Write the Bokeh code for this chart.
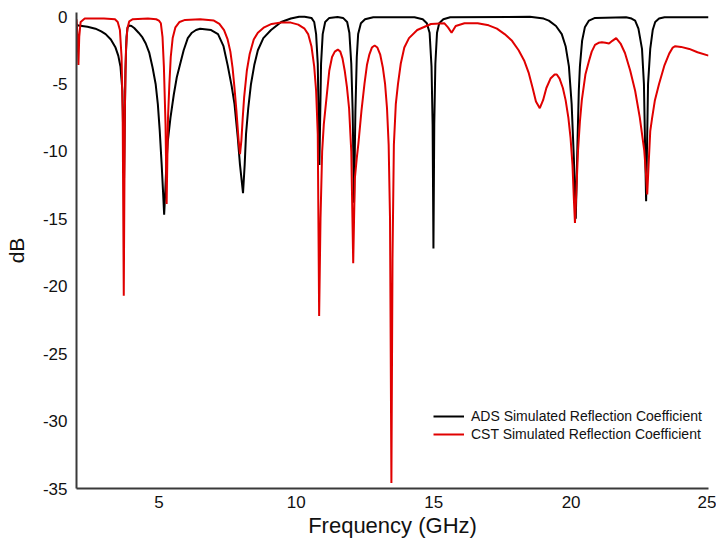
from bokeh.plotting import figure
from bokeh.models import Range1d, Legend, LegendItem, FixedTicker
from bokeh.embed import file_html
from bokeh.resources import INLINE

# ADS simulated reflection coefficient (GHz, dB)
ads_freq = [2.0, 2.07, 2.4, 2.69, 2.9, 3.06, 3.25, 3.42, 3.52, 3.6, 3.67, 3.73, 3.78, 3.82, 3.86, 3.92,
            4.0, 4.1, 4.26, 4.4, 4.52, 4.65, 4.77, 4.88, 4.96, 5.03, 5.1, 5.15, 5.19, 5.23, 5.27,
            5.32, 5.42, 5.54, 5.65, 5.8, 5.9, 6.05, 6.2, 6.35, 6.5, 6.9, 7.15, 7.35, 7.5, 7.65,
            7.75, 7.87, 7.95, 8.06, 8.12, 8.17, 8.25, 8.35, 8.47, 8.6, 8.8, 9.08, 9.45, 9.8,
            10.1, 10.3, 10.55, 10.65, 10.72, 10.78, 10.84, 10.9, 10.96, 11.05, 11.2, 11.5,
            11.7, 11.85, 11.93, 12.0, 12.05, 12.1, 12.15, 12.2, 12.25, 12.35, 12.5, 12.8,
            14.3, 14.6, 14.75, 14.85, 14.92, 14.96, 14.99, 15.02, 15.06, 15.12, 15.2, 15.35, 15.6,
            18.5, 19.0, 19.19, 19.45, 19.66, 19.8, 19.92, 20.02, 20.1, 20.17, 20.23, 20.28,
            20.32, 20.4, 20.5, 20.65, 20.87, 22.0, 22.2, 22.33, 22.45, 22.58, 22.65, 22.73,
            22.8, 22.88, 22.97, 23.06, 23.2, 23.4, 25.0]
ads_db = [-0.6, -0.67, -0.75, -0.9, -1.1, -1.3, -1.7, -2.3, -2.9, -3.7, -5.5, -12.0, -4.0, -1.5, -0.8, -0.67,
          -0.7, -0.85, -1.2, -1.55, -2.0, -2.7, -3.8, -5.0, -6.5, -8.5, -11.0, -13.0, -14.7, -13.0, -11.0,
          -9.3, -7.5, -5.8, -4.5, -3.3, -2.5, -1.6, -1.2, -1.0, -0.9, -1.0, -1.3, -2.2, -3.6, -5.2,
          -6.5, -9.0, -11.0, -13.1, -11.0, -8.7, -6.8, -5.0, -3.6, -2.5, -1.6, -1.0, -0.4, -0.15,
          -0.02, -0.02, -0.1, -0.4, -1.3, -3.5, -11.0, -3.5, -1.3, -0.4, -0.1, -0.03,
          -0.1, -0.4, -1.2, -3.5, -7.0, -13.8, -7.0, -3.0, -1.3, -0.5, -0.2, -0.05,
          -0.05, -0.2, -0.5, -1.2, -3.7, -8.0, -17.2, -8.0, -3.5, -1.2, -0.5, -0.2, -0.05,
          -0.02, -0.15, -0.3, -0.7, -1.3, -2.2, -3.7, -6.5, -10.5, -15.0, -9.5, -5.5,
          -3.7, -1.8, -0.8, -0.3, -0.1, -0.05, -0.15, -0.3, -0.9, -2.4, -5.0, -13.7,
          -5.0, -2.4, -1.0, -0.4, -0.15, -0.05, -0.05]

# CST simulated reflection coefficient (GHz, dB)
cst_freq = [2.0, 2.04, 2.07, 2.1, 2.15, 2.3, 3.0, 3.4, 3.5, 3.58, 3.64, 3.68, 3.72, 3.76, 3.8, 3.85,
            3.92, 4.05, 4.6, 4.9, 5.0, 5.07, 5.13, 5.18, 5.24, 5.28, 5.33, 5.38, 5.43, 5.5, 5.6,
            5.75, 5.95, 6.5, 7.0, 7.2, 7.37, 7.5, 7.6, 7.68, 7.75, 7.82, 7.9, 7.95, 8.0, 8.05,
            8.1, 8.2, 8.3, 8.45, 8.6, 8.83, 9.1, 9.45, 9.8, 10.07, 10.3, 10.43, 10.55, 10.65,
            10.72, 10.78, 10.83, 10.88, 10.94, 11.0, 11.09, 11.2, 11.3, 11.4, 11.51, 11.6, 11.68,
            11.76, 11.84, 11.92, 12.0, 12.07, 12.13, 12.2, 12.26, 12.37, 12.48, 12.57, 12.66,
            12.75, 12.85, 12.95, 13.05, 13.15, 13.23, 13.3, 13.36, 13.41, 13.46, 13.5, 13.55,
            13.62, 13.7, 13.8, 13.93, 14.1, 14.4, 14.9, 15.39, 15.52, 15.65, 15.8, 16.12, 16.6,
            17.0, 17.3, 17.58, 17.85, 18.09, 18.3, 18.46, 18.6, 18.72, 18.86, 18.98, 19.1, 19.25,
            19.4, 19.48, 19.58, 19.7, 19.8, 19.9, 19.98, 20.05, 20.1, 20.14, 20.19, 20.25, 20.32,
            20.39, 20.52, 20.65, 20.75, 20.87, 21.0, 21.12, 21.25, 21.38, 21.5, 21.64, 21.8,
            21.96, 22.15, 22.33, 22.5, 22.66, 22.72, 22.77, 22.82, 22.88, 22.95, 23.05, 23.2,
            23.4, 23.57, 23.7, 23.79, 24.0, 24.3, 24.6, 25.0]
cst_db = [-0.2, -1.5, -3.6, -1.5, -0.4, -0.15, -0.15, -0.2, -0.4, -1.0, -3.0, -7.0, -20.7, -7.0, -2.5, -0.9,
          -0.35, -0.2, -0.15, -0.2, -0.3, -0.5, -1.5, -3.7, -8.0, -13.9, -7.5, -5.0, -3.0, -1.6, -0.8,
          -0.4, -0.25, -0.2, -0.3, -0.55, -1.0, -1.7, -2.6, -3.8, -5.3, -7.0, -9.2, -10.2, -9.2, -7.5,
          -6.0, -4.0, -2.8, -1.7, -1.2, -0.8, -0.55, -0.45, -0.45, -0.6, -0.9, -1.3, -2.2, -3.7,
          -5.5, -8.7, -22.2, -15.0, -10.0, -8.0, -6.2, -4.0, -3.0, -2.6, -2.45, -2.6, -3.1,
          -4.0, -5.2, -6.8, -10.0, -18.3, -12.0, -10.5, -9.4, -7.0, -5.0, -3.6, -2.8,
          -2.3, -2.15, -2.3, -2.8, -3.8, -5.0, -6.8, -9.5, -15.0, -34.6, -18.0, -9.5,
          -6.5, -5.0, -3.5, -2.3, -1.6, -1.0, -0.55, -0.5, -0.8, -1.2, -0.7, -0.5, -0.5,
          -0.65, -0.9, -1.3, -1.8, -2.5, -3.3, -4.2, -5.3, -6.3, -6.8, -6.2, -5.3, -4.6,
          -4.3, -4.3, -4.6, -5.3, -6.2, -7.5, -9.0, -11.0, -13.5, -15.3, -13.0, -10.0, -7.8,
          -6.2, -4.3, -3.3, -2.6, -2.1, -1.95, -1.9, -1.95, -2.0, -1.8, -1.6, -2.0,
          -2.7, -4.0, -5.5, -7.5, -9.9, -11.5, -13.2, -11.0, -8.5, -7.5, -6.2, -5.0,
          -3.6, -2.75, -2.3, -2.2, -2.25, -2.4, -2.65, -2.9]

x_ticks = [5, 10, 15, 20, 25]
y_ticks = [0, -5, -10, -15, -20, -25, -30, -35]
series_labels = ["ADS Simulated Reflection Coefficient", "CST Simulated Reflection Coefficient"]

FONT = "Liberation Sans"

p = figure(width=716, height=541, output_backend="svg", toolbar_location=None,
           x_range=Range1d(2, 25), y_range=Range1d(-35, 0.3),
           min_border_left=76, min_border_right=8, min_border_top=12, min_border_bottom=53)
p.outline_line_color = None
p.xgrid.visible = False
p.ygrid.visible = False
p.background_fill_color = "white"
p.border_fill_color = "white"

ads_r = p.line(ads_freq, ads_db, line_color="black", line_width=2)
cst_r = p.line(cst_freq, cst_db, line_color="#e00000", line_width=2)

for ax in (p.xaxis[0], p.yaxis[0]):
    ax.axis_line_color = "#3a3a3a"
    ax.axis_line_width = 2
    ax.major_tick_line_color = None
    ax.minor_tick_line_color = None
    ax.major_tick_out = 0
    ax.major_tick_in = 0
    ax.major_label_text_font = FONT
    ax.major_label_text_font_size = "17px"
    ax.major_label_text_color = "#111111"
    ax.axis_label_text_font = FONT
    ax.axis_label_text_font_style = "normal"
    ax.axis_label_text_color = "#111111"

p.xaxis.ticker = FixedTicker(ticks=x_ticks)
p.yaxis.ticker = FixedTicker(ticks=y_ticks)
p.yaxis.major_label_overrides = {t: str(t) for t in y_ticks}
p.xaxis.major_label_overrides = {t: str(t) for t in x_ticks}
p.xaxis.axis_label = "Frequency (GHz)"
p.yaxis.axis_label = "dB"
p.xaxis.axis_label_text_font_size = "22px"
p.yaxis.axis_label_text_font_size = "21px"
p.xaxis.major_label_standoff = 7
p.yaxis.major_label_standoff = 9
p.xaxis.axis_label_standoff = 2
p.yaxis.axis_label_standoff = 12

legend = Legend(items=[LegendItem(label=series_labels[0], renderers=[ads_r]),
                       LegendItem(label=series_labels[1], renderers=[cst_r])],
                location=(357, 45), padding=0, margin=0, spacing=0,
                glyph_width=31, glyph_height=18, label_height=18, label_standoff=7,
                label_text_font=FONT, label_text_font_size="14px", label_text_color="#111111",
                border_line_color=None, background_fill_alpha=0)
p.add_layout(legend)

open("out.html", "w").write(file_html(p, INLINE))
